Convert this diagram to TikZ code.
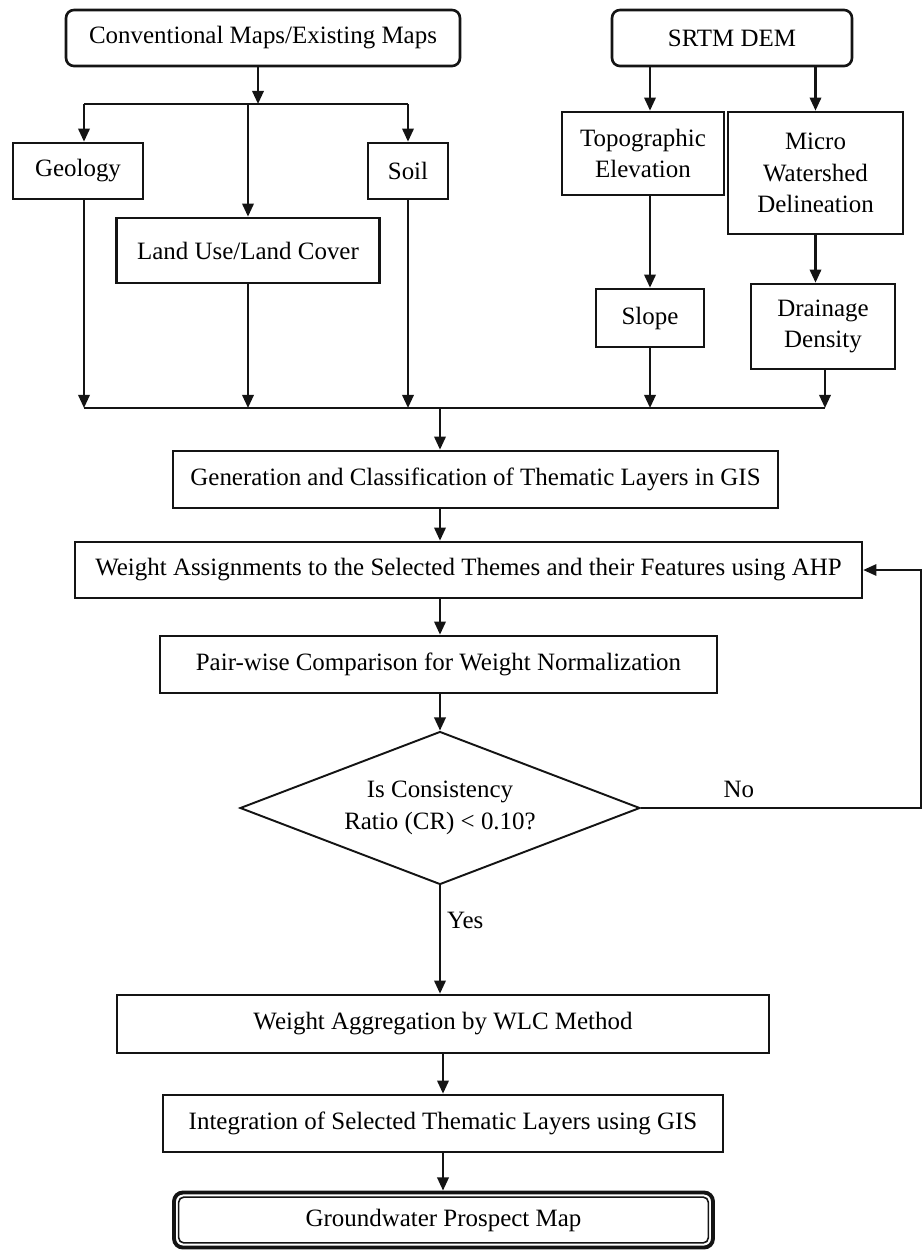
\documentclass[tikz,border=0pt]{standalone}
\usepackage{fontspec}
\setmainfont{Liberation Serif}
\usetikzlibrary{arrows.meta,calc,shapes.geometric}
\definecolor{LineClr}{RGB}{20,20,20}
\tikzset{
  BoxSty/.style={draw=LineClr,line width=1.5pt,inner sep=2pt,align=center,
    font=\fontsize{14.2}{18}\selectfont},
  RndBoxSty/.style={BoxSty,rounded corners=4.5pt},
  DiaSty/.style={draw=LineClr,line width=1.1pt,diamond,shape aspect=2.6,inner sep=0pt,
    align=center,font=\fontsize{14.2}{18}\selectfont},
  ArrSty/.style={draw=LineClr,line width=1.35pt},
  ThinSty/.style={draw=LineClr,line width=1pt},
  LblSty/.style={font=\fontsize{14.2}{18}\selectfont}
}

\begin{document}
\begin{tikzpicture}[x=0.02cm,y=-0.02cm,>={Triangle[length=7.5pt,width=6.5pt]}]
\useasboundingbox (0,0) rectangle (923,1251);

% sources
\node[RndBoxSty,minimum width=7.88cm,minimum height=1.12cm] (conv) at (263,38) {Conventional Maps/Existing Maps};
\node[RndBoxSty,minimum width=4.8cm,minimum height=1.12cm] (srtm) at (732,38) {SRTM DEM};

% thematic inputs
\node[BoxSty,minimum width=2.6cm,minimum height=1.12cm] (geo) at (78,171) {Geology};
\node[BoxSty,minimum width=1.6cm,minimum height=1.12cm] (soil) at (408,171) {Soil};
\node[BoxSty,minimum width=5.26cm,minimum height=1.3cm] (lulc) at (248,250.5) {Land Use/Land Cover};
\node[BoxSty,minimum width=3.24cm,minimum height=1.66cm] (topo) at (643,153.5) {Topographic\\Elevation};
\node[BoxSty,minimum width=3.5cm,minimum height=2.44cm] (micro) at (815.5,173) {Micro\\Watershed\\Delineation};
\node[BoxSty,minimum width=2.16cm,minimum height=1.16cm] (slope) at (650,318) {Slope};
\node[BoxSty,minimum width=2.88cm,minimum height=1.7cm] (drain) at (823,326.5) {Drainage\\Density};

% main column
\node[BoxSty,minimum width=12.1cm,minimum height=1.14cm] (gen) at (475.5,479.5) {Generation and Classification of Thematic Layers in GIS};
\node[BoxSty,minimum width=15.74cm,minimum height=1.12cm] (wgt) at (468.5,570) {Weight Assignments to the Selected Themes and their Features using AHP};
\node[BoxSty,minimum width=11.14cm,minimum height=1.14cm] (pair) at (438.5,664.5) {Pair-wise Comparison for Weight Normalization};
\node[DiaSty,minimum width=8cm,minimum height=3.06cm] (dia) at (440,808) {Is Consistency\\Ratio (CR) < 0.10?};
\node[BoxSty,minimum width=13.04cm,minimum height=1.16cm] (wa) at (443,1024) {Weight Aggregation by WLC Method};
\node[BoxSty,minimum width=11.2cm,minimum height=1.14cm] (int) at (443,1123.5) {Integration of Selected Thematic Layers using GIS};
\node[draw=LineClr,line width=2.2pt,rounded corners=5pt,minimum width=10.78cm,minimum height=1.1cm,
  font=\fontsize{14.2}{18}\selectfont] (gw) at (443.5,1220) {Groundwater Prospect Map};
\draw[LineClr,line width=0.9pt,rounded corners=3pt] ([shift={(6.5,6.5)}]gw.north west) rectangle ([shift={(-6.5,-6.5)}]gw.south east);

% split below conventional maps
\coordinate (splitC) at (258,104);
\coordinate (splitL) at (84,104);
\coordinate (splitM) at (248,104);
\draw[ArrSty,->] (conv.south -| splitC) -- (splitC);
\draw[ArrSty] (splitL) -- (splitL -| soil.north);
\draw[ArrSty,->] (splitL) -- (splitL |- geo.north);
\draw[ArrSty,->] (splitL -| soil.north) -- (soil.north);
\draw[ArrSty,->] (splitM) -- (lulc.north);

% srtm branches
\draw[ArrSty,->] (srtm.south -| slope.north) -- (slope.north |- topo.north);
\draw[ArrSty,->] (srtm.south -| micro.north) -- (micro.north);
\draw[ArrSty,->] (topo.south -| slope.north) -- (slope.north);
\draw[ArrSty,->] (micro.south) -- (micro.south |- drain.north);

% merge line
\coordinate (mergeL) at (84,408);
\coordinate (mergeC) at (440,408);
\draw[ArrSty,->] (geo.south -| mergeL) -- (mergeL);
\draw[ArrSty,->] (lulc.south) -- (lulc.south |- mergeL);
\draw[ArrSty,->] (soil.south) -- (soil.south |- mergeL);
\draw[ArrSty,->] (slope.south) -- (slope.south |- mergeL);
\draw[ArrSty,->] ([xshift=0.04cm]drain.south) -- ([xshift=0.04cm]drain.south |- mergeL);
\draw[ArrSty] (mergeL) -- ([xshift=0.04cm]drain.south |- mergeL);
\draw[ArrSty,->] (mergeC) -- (mergeC |- gen.north);

% flow
\draw[ArrSty,->] (gen.south -| mergeC) -- (mergeC |- wgt.north);
\draw[ArrSty,->] (wgt.south -| mergeC) -- (mergeC |- pair.north);
\draw[ArrSty,->] (pair.south -| mergeC) -- (dia.north);
\draw[ArrSty,->] (dia.south) -- node[LblSty,pos=0.32,right] {Yes} (dia.south |- wa.north);
\draw[ArrSty,->] (wa.south) -- (wa.south |- int.north);
\draw[ArrSty,->] (int.south) -- (int.south |- gw.north);

% feedback
\coordinate (fbR) at (921,808);
\draw[ThinSty,->] (dia.east) -- node[LblSty,pos=0.35,above=2pt] {No} (fbR) |- (wgt.east);

\end{tikzpicture}
\end{document}
